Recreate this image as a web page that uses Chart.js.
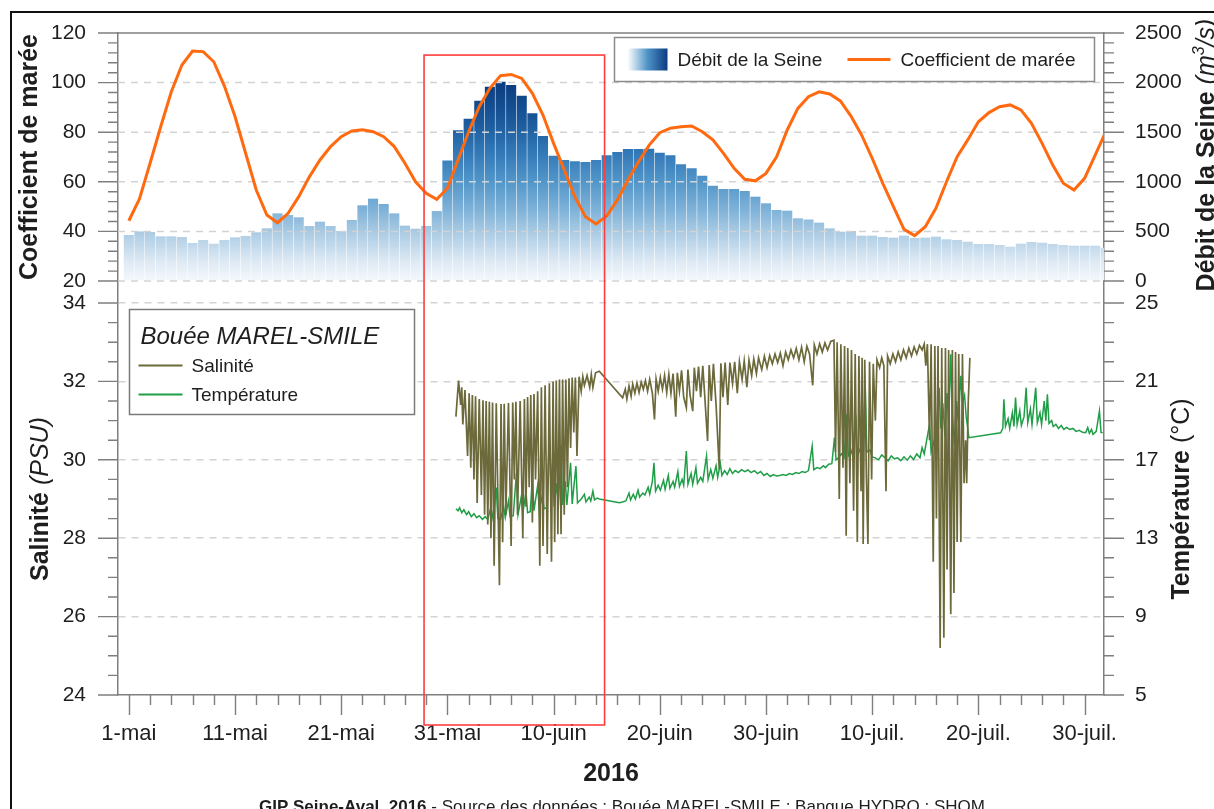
<!DOCTYPE html>
<html lang="fr">
<head>
<meta charset="utf-8">
<title>Bouée MAREL-SMILE - mai à juillet 2016</title>
<script src="https://cdn.jsdelivr.net/npm/chart.js@4.4.1/dist/chart.umd.min.js"></script>
<style>
  html, body { margin: 0; padding: 0; background: #fff; overflow: hidden; }
  #wrap { position: relative; width: 1214px; height: 809px; overflow: hidden; }
  #frame { position: absolute; left: 10px; top: 11px; width: 1300px; height: 900px; border: 2px solid #111; }
  #chart { position: absolute; left: 0; top: 0; }
</style>
</head>
<body>
<div id="wrap">
  <div id="frame"></div>
  <canvas id="chart" width="1214" height="809"></canvas>
</div>
<script>
// Day 0 = 1 May 2016, one value per day up to 1 August
const debitSeine = [
  464, 500, 494, 450, 450, 443, 383, 413, 376, 413,
  440, 454, 491, 531, 682, 665, 642, 554, 598, 554,
  504, 615, 763, 830, 776, 682, 558, 527, 555, 705,
  1215, 1519, 1636, 1818, 1959, 2009, 1976, 1868, 1690, 1462,
  1263, 1220, 1207, 1200, 1220, 1267, 1300, 1331, 1331, 1334,
  1294, 1267, 1176, 1136, 1062, 961, 927, 927, 907, 850,
  783, 716, 709, 632, 620, 588, 531, 497, 504, 457,
  457, 443, 437, 457, 433, 437, 447, 420, 413, 396,
  373, 373, 363, 346, 376, 393, 386, 373, 363, 356,
  356, 356, 336
];

const coefMaree = [
  44.3, 53.1, 67.5, 82.2, 96.3, 107.1, 112.7, 112.5, 108.4, 98.6,
  86.3, 71.5, 56.7, 46.6, 43.5, 47.3, 54.0, 62.0, 68.8, 74.2,
  78.2, 80.5, 81.0, 80.2, 78.2, 74.2, 67.5, 60.0, 55.4, 52.9,
  57.4, 68.8, 80.2, 90.3, 97.7, 102.8, 103.3, 101.7, 95.7, 86.9,
  75.5, 64.8, 54.0, 45.9, 43.0, 46.2, 52.7, 60.7, 68.1, 74.8,
  79.8, 81.6, 82.2, 82.5, 80.2, 76.9, 71.5, 65.4, 61.0, 60.4,
  63.4, 70.1, 80.9, 89.6, 94.3, 96.3, 95.4, 92.6, 86.5, 78.9,
  69.5, 59.4, 50.0, 40.8, 38.3, 41.9, 49.3, 60.0, 70.1, 76.9,
  84.2, 87.9, 90.3, 91.0, 89.0, 83.6, 75.5, 66.8, 59.4, 56.7,
  61.4, 70.8, 80.2
];

// MAREL-SMILE buoy: [day, PSU]
const salinite = [
  [30.80, 31.10], [31.05, 32.02], [31.25, 31.40], [31.35, 31.85], [31.45, 30.90], [31.65, 31.78],
  [31.90, 30.10], [32.05, 31.70], [32.20, 29.80], [32.35, 31.65], [32.50, 29.50], [32.65, 31.62],
  [32.80, 28.90], [33.00, 31.55], [33.20, 29.10], [33.35, 31.52], [33.50, 28.60], [33.65, 31.50],
  [33.80, 28.35], [33.95, 31.48], [34.10, 28.00], [34.25, 31.46], [34.40, 27.30], [34.60, 31.44],
  [34.90, 26.80], [35.05, 31.42], [35.20, 27.90], [35.35, 31.43], [35.50, 28.60], [35.75, 31.45],
  [36.00, 27.80], [36.15, 31.46], [36.30, 29.50], [36.45, 31.48], [36.60, 28.60], [36.85, 31.50],
  [37.10, 28.00], [37.25, 31.55], [37.40, 28.80], [37.55, 31.60], [37.70, 29.30], [37.85, 31.65],
  [38.00, 28.40], [38.15, 31.68], [38.30, 29.50], [38.50, 31.75], [38.70, 27.30], [38.85, 31.85],
  [39.00, 27.80], [39.20, 31.90], [39.40, 27.60], [39.60, 31.95], [39.80, 27.40], [39.95, 32.00],
  [40.10, 27.90], [40.25, 32.02], [40.40, 28.10], [40.55, 32.05], [40.70, 28.10], [40.85, 32.05],
  [41.00, 28.60], [41.15, 32.05], [41.30, 29.30], [41.45, 32.08], [41.60, 30.30], [41.75, 32.10],
  [41.90, 30.70], [42.05, 32.10], [42.20, 30.10], [42.40, 32.12], [42.60, 31.75], [42.75, 32.12],
  [42.90, 31.90], [43.15, 32.15], [43.40, 31.85], [43.55, 32.18], [43.70, 31.85], [43.95, 32.22],
  [44.30, 32.26],
  [46.50, 31.58], [46.75, 31.80], [46.90, 31.55], [47.10, 31.88], [47.30, 31.62], [47.45, 31.93],
  [47.65, 31.70], [47.85, 31.96], [48.05, 31.72], [48.25, 31.98], [48.45, 31.80], [48.65, 32.02],
  [48.85, 31.75], [49.05, 32.05], [49.30, 31.70], [49.50, 31.03], [49.65, 32.06], [49.85, 31.75],
  [50.05, 32.10], [50.25, 31.80], [50.45, 32.15], [50.65, 31.72], [50.85, 32.18], [51.05, 31.70],
  [51.25, 32.20], [51.50, 31.10], [51.65, 32.22], [51.85, 31.75], [52.05, 32.28], [52.25, 31.60],
  [52.50, 31.33], [52.65, 32.30], [52.85, 31.65], [53.10, 31.24], [53.25, 32.35], [53.45, 31.75],
  [53.65, 32.38], [53.85, 31.60], [54.05, 32.40], [54.25, 31.55], [54.50, 30.48], [54.65, 32.42],
  [54.85, 31.50], [55.05, 32.45], [55.30, 31.40], [55.60, 29.76], [55.75, 32.46], [55.95, 31.60],
  [56.15, 32.48], [56.40, 31.40], [56.60, 32.48], [56.85, 31.95], [57.05, 32.50], [57.30, 31.70],
  [57.50, 32.50], [57.75, 32.05], [57.95, 32.52], [58.20, 31.85], [58.40, 32.54], [58.65, 32.15],
  [58.85, 32.57], [59.10, 32.20], [59.30, 32.60], [59.60, 32.30], [59.85, 32.64], [60.10, 32.35],
  [60.35, 32.66], [60.60, 32.45], [60.85, 32.70], [61.10, 32.48], [61.35, 32.72], [61.60, 32.40],
  [61.85, 32.75], [62.10, 32.55], [62.35, 32.80], [62.60, 32.60], [62.85, 32.84], [63.10, 32.55],
  [63.35, 32.87], [63.60, 32.50], [63.85, 32.90], [64.10, 32.70], [64.40, 31.90], [64.55, 32.93],
  [64.80, 32.70], [65.05, 32.96], [65.30, 32.75], [65.55, 32.98], [65.80, 32.80], [66.10, 33.02],
  [66.40, 33.05],
  [66.55, 30.20], [66.70, 33.00], [66.90, 29.00], [67.05, 32.95], [67.25, 29.80], [67.40, 32.90],
  [67.55, 28.06], [67.70, 32.85], [67.90, 29.40], [68.05, 32.80], [68.25, 28.70], [68.40, 32.70],
  [68.60, 27.90], [68.75, 32.65], [68.95, 29.20], [69.05, 32.60], [69.15, 27.85], [69.30, 32.55],
  [69.45, 29.60], [69.60, 27.85], [69.75, 32.50], [69.95, 29.50], [70.10, 32.45], [70.30, 31.00],
  [70.45, 32.55],
  [70.70, 32.35], [70.90, 32.60], [71.10, 32.40], [71.30, 29.20], [71.45, 32.65], [71.70, 32.45],
  [71.95, 32.70], [72.20, 32.50], [72.45, 32.75], [72.70, 32.55], [72.95, 32.80], [73.20, 32.60],
  [73.45, 32.85], [73.70, 32.65], [73.95, 32.88], [74.20, 32.70], [74.45, 32.92], [74.70, 32.80],
  [74.90, 32.95],
  [75.05, 32.40], [75.20, 32.95], [75.40, 30.50], [75.55, 32.95], [75.75, 27.40], [75.90, 32.90],
  [76.05, 28.50], [76.20, 32.90], [76.40, 25.20], [76.55, 32.85], [76.75, 25.46], [76.90, 32.85],
  [77.05, 27.20], [77.20, 32.80], [77.40, 26.06], [77.55, 32.80], [77.70, 26.60], [77.85, 32.75],
  [78.00, 27.90], [78.15, 32.70], [78.35, 27.90], [78.50, 32.70], [78.65, 29.40], [78.80, 30.50],
  [78.90, 29.40], [79.05, 31.50], [79.20, 32.60]
];

// MAREL-SMILE buoy: [day, degrees C]
const temperature = [
  [30.80, 14.50], [31.00, 14.40], [31.15, 14.55], [31.35, 14.30], [31.55, 14.45], [31.80, 14.20],
  [32.00, 14.35], [32.25, 14.10], [32.50, 14.25], [32.75, 14.05], [33.00, 14.15], [33.30, 13.96],
  [33.55, 14.10], [33.80, 13.95], [34.10, 14.60], [34.30, 13.98], [34.60, 15.58], [34.75, 14.00],
  [35.00, 13.96], [35.30, 14.60], [35.45, 14.05], [35.75, 14.90], [35.90, 14.10], [36.20, 14.15],
  [36.50, 16.34], [36.65, 14.20], [36.95, 15.10], [37.10, 14.25], [37.40, 15.40], [37.55, 14.30],
  [37.80, 14.35], [38.00, 16.10], [38.15, 14.40], [38.50, 15.70], [38.65, 14.45], [38.95, 15.20],
  [39.10, 14.50], [39.35, 14.55], [39.60, 18.13], [39.75, 15.60], [39.90, 16.90], [40.05, 14.60],
  [40.30, 15.80], [40.45, 14.65], [40.70, 17.70], [40.85, 14.70], [41.10, 15.90], [41.25, 14.70],
  [41.60, 16.85], [41.75, 14.75], [42.10, 16.68], [42.25, 14.80], [42.60, 15.00], [42.90, 15.24],
  [43.05, 14.85], [43.35, 15.10], [43.50, 14.90], [43.70, 15.40], [43.85, 14.95], [44.10, 15.05],
  [44.30, 15.00],
  [46.20, 14.81], [46.50, 14.85], [46.80, 14.90], [47.10, 15.30], [47.25, 14.95], [47.50, 15.24],
  [47.70, 15.00], [47.95, 15.45], [48.10, 15.10], [48.40, 15.30], [48.60, 15.20], [48.90, 15.60],
  [49.05, 15.25], [49.30, 15.90], [49.45, 16.85], [49.60, 15.40], [49.85, 15.70], [50.05, 15.45],
  [50.35, 15.95], [50.50, 15.50], [50.80, 16.20], [50.95, 15.55], [51.25, 15.90], [51.40, 15.60],
  [51.70, 16.40], [51.85, 15.65], [52.10, 16.00], [52.25, 15.70], [52.50, 17.45], [52.65, 15.75],
  [52.95, 16.30], [53.10, 15.75], [53.40, 16.60], [53.55, 15.80], [53.85, 16.10], [54.05, 15.90],
  [54.40, 17.19], [54.55, 16.00], [54.80, 16.50], [55.00, 16.05], [55.30, 16.70], [55.45, 16.10],
  [55.70, 16.80], [55.85, 16.20], [56.10, 16.45], [56.35, 16.25], [56.60, 16.55], [56.85, 16.30],
  [57.10, 16.45], [57.40, 16.35], [57.70, 16.50], [58.00, 16.40], [58.30, 16.48], [58.60, 16.35],
  [58.90, 16.45], [59.20, 16.30], [59.50, 16.40], [59.80, 16.20], [60.10, 16.30], [60.40, 16.15],
  [60.70, 16.25], [61.00, 16.17],
  [61.30, 16.20], [61.60, 16.25], [61.90, 16.20], [62.20, 16.30], [62.50, 16.25], [62.80, 16.35],
  [63.10, 16.30], [63.40, 16.40], [63.70, 16.35], [64.00, 16.45], [64.35, 17.70], [64.50, 16.50],
  [64.80, 16.60], [65.10, 16.55], [65.40, 16.70], [65.60, 16.60], [65.90, 16.77], [66.20, 16.80],
  [66.45, 18.13], [66.60, 17.00], [66.85, 17.11], [67.10, 17.30], [67.35, 17.10], [67.60, 19.32],
  [67.75, 17.20], [68.00, 17.50], [68.20, 17.15], [68.45, 19.30], [68.60, 17.20], [68.90, 17.60],
  [69.05, 17.20], [69.35, 20.68], [69.50, 17.40], [69.80, 17.50], [70.00, 17.15], [70.30, 17.10],
  [70.60, 17.00], [70.90, 17.25], [71.20, 17.11], [71.50, 16.95], [71.80, 17.20], [72.10, 17.05],
  [72.40, 17.10], [72.70, 16.95], [73.00, 17.15], [73.30, 16.98], [73.60, 17.20], [73.90, 17.02],
  [74.20, 17.30], [74.50, 17.10], [74.70, 17.62], [74.90, 17.30], [75.40, 18.81], [75.55, 17.40],
  [75.80, 17.90], [75.95, 17.50], [76.30, 20.68], [76.45, 18.60], [76.65, 19.90], [76.85, 18.20],
  [77.05, 20.40], [77.20, 18.90], [77.40, 22.38], [77.55, 19.20], [77.75, 17.80], [77.95, 20.00],
  [78.10, 19.00], [78.35, 21.28], [78.50, 19.90], [78.70, 20.30], [78.85, 19.20], [79.00, 18.60],
  [79.10, 18.13],
  [82.10, 18.38], [82.30, 18.60], [82.40, 20.09], [82.55, 18.70], [82.80, 19.10], [82.95, 18.60],
  [83.20, 19.40], [83.35, 18.70], [83.50, 20.17], [83.65, 18.80], [83.90, 19.50], [84.05, 18.75],
  [84.30, 19.20], [84.50, 20.68], [84.65, 18.90], [84.90, 19.60], [85.05, 18.80], [85.40, 20.68],
  [85.55, 18.90], [85.80, 19.40], [85.95, 18.80], [86.20, 20.00], [86.35, 19.00], [86.50, 20.34],
  [86.65, 18.85], [86.90, 19.00], [87.05, 18.70], [87.30, 18.81], [87.55, 18.60], [87.80, 18.75],
  [88.05, 18.55], [88.30, 18.65], [88.60, 18.55], [88.90, 18.60], [89.20, 18.45], [89.50, 18.50],
  [89.80, 18.40], [90.10, 18.38], [90.30, 18.64], [90.45, 18.35], [90.65, 18.55], [90.80, 18.30],
  [91.10, 18.45], [91.40, 19.49], [91.55, 18.40], [91.70, 18.38]
];

// labels every 10 days from day 0
const dateLabels = ['1-mai', '11-mai', '21-mai', '31-mai', '10-juin', '20-juin', '30-juin', '10-juil.', '20-juil.', '30-juil.'];

// highlighted period (days)
const periodeCrue = [27.8, 44.8];

const FONT = "'Liberation Sans', Arial, Helvetica, sans-serif";
const TEXT = '#1e1e1e';
const AXIS_GREY = '#7f7f7f';
const GRID_GREY = '#d3d3d3';
const ORANGE = '#ff6a10';
const OLIVE = '#6c693a';
const GREEN = '#1f9e47';
const NAVY = '#0b3c80';

Chart.defaults.font.family = FONT;
Chart.defaults.color = TEXT;

const isMajor = {
  x: v => v % 10 === 0,
  coef: v => v % 20 === 0,
  debit: v => v % 500 === 0,
  sal: v => Number.isInteger(v) && v % 2 === 0,
  temp: v => (v - 5) % 4 === 0
};

function tickValues(from, to, step) {
  const out = [];
  for (let v = from; v <= to + 1e-9; v += step) out.push(Math.round(v * 100) / 100);
  return out;
}

let barGradient = null;
let gradientKey = '';

function debitFill(context) {
  const chart = context.chart;
  const { chartArea, scales } = chart;
  if (!chartArea || !scales.debit) return '#6aa5d2';
  const y0 = scales.debit.getPixelForValue(0);
  const y1 = scales.debit.getPixelForValue(2000);
  const key = y0 + ':' + y1;
  if (!barGradient || key !== gradientKey) {
    const g = chart.ctx.createLinearGradient(0, y0, 0, y1);
    g.addColorStop(0, '#f4f8fc');
    g.addColorStop(0.1, '#dde9f4');
    g.addColorStop(0.25, '#a9cae3');
    g.addColorStop(0.35, '#82b4d9');
    g.addColorStop(0.5, '#5296c9');
    g.addColorStop(0.65, '#3278b7');
    g.addColorStop(0.8, '#1b5a9b');
    g.addColorStop(1, NAVY);
    barGradient = g;
    gradientKey = key;
  }
  return barGradient;
}

function yAxis(id, position, stack, weight, min, max, ticks) {
  const major = isMajor[id];
  return {
    type: 'linear',
    axis: 'y',
    position,
    stack,
    stackWeight: weight,
    min,
    max,
    afterBuildTicks: scale => {
      scale.ticks = tickValues(ticks[0], ticks[1], ticks[2]).map(value => ({ value }));
    },
    afterFit: scale => {
      scale.width = position === 'left' ? 118 : 110;
      // keep label overhang from pushing the plot area down
      scale.paddingTop = 0;
      scale.paddingBottom = 0;
    },
    ticks: {
      autoSkip: false,
      padding: position === 'left' ? 32 : 31,
      font: { size: 21 },
      color: TEXT,
      callback: v => (major(v) ? String(v) : '')
    },
    grid: {
      drawTicks: false,
      drawOnChartArea: id === 'sal',
      lineWidth: 1.5,
      color: ctx => (ctx.tick && major(ctx.tick.value) && ctx.tick.value !== 24 ? GRID_GREY : 'rgba(0,0,0,0)')
    },
    border: { display: true, color: AXIS_GREY, width: 1.5, dash: [7, 6] }
  };
}

function drawTickMarks(ctx, scale, side, area) {
  const major = isMajor[scale.id];
  ctx.beginPath();
  for (const t of scale.ticks) {
    const len = major(t.value) ? 20 : 10;
    if (side === 'bottom') {
      const x = Math.round(scale.getPixelForValue(t.value)) + 0.5;
      if (x < area.left - 1 || x > area.right + 1) continue;
      ctx.moveTo(x, area.bottom);
      ctx.lineTo(x, area.bottom + len);
    } else {
      const y = scale.getPixelForValue(t.value);
      const x0 = side === 'left' ? area.left : area.right;
      ctx.moveTo(x0, y);
      ctx.lineTo(side === 'left' ? x0 - len : x0 + len, y);
    }
  }
  ctx.stroke();
}

// rotated title, reading bottom to top, made of several styled pieces
function drawVerticalTitle(ctx, parts, baselineX, centerY) {
  ctx.save();
  ctx.translate(baselineX, centerY);
  ctx.rotate(-Math.PI / 2);
  ctx.textAlign = 'left';
  ctx.textBaseline = 'alphabetic';
  ctx.fillStyle = TEXT;
  let total = 0;
  for (const p of parts) {
    ctx.font = p.font;
    total += ctx.measureText(p.text).width;
  }
  let x = -total / 2;
  for (const p of parts) {
    ctx.font = p.font;
    ctx.fillText(p.text, x, -(p.rise || 0));
    x += ctx.measureText(p.text).width;
  }
  ctx.restore();
}

function drawTopLegend(ctx, area, datasets) {
  const debit = datasets.find(d => d.yAxisID === 'debit');
  const coef = datasets.find(d => d.yAxisID === 'coef');
  const left = area.right - 489.5;
  const top = area.top + 4.5;
  const midY = top + 22;

  ctx.fillStyle = '#fff';
  ctx.fillRect(left, top, 480, 44);
  ctx.strokeStyle = '#8a8a8a';
  ctx.lineWidth = 1.5;
  ctx.strokeRect(left, top, 480, 44);

  const sw = ctx.createLinearGradient(left + 13, 0, left + 53, 0);
  sw.addColorStop(0, '#ffffff');
  sw.addColorStop(0.5, '#4f93c7');
  sw.addColorStop(1, NAVY);
  ctx.fillStyle = sw;
  ctx.fillRect(left + 13, top + 11, 40, 22);

  ctx.font = '19px ' + FONT;
  ctx.fillStyle = TEXT;
  ctx.textAlign = 'left';
  ctx.textBaseline = 'middle';
  ctx.fillText(debit.label, left + 63, midY + 1);

  ctx.strokeStyle = coef.borderColor;
  ctx.lineWidth = 3;
  ctx.beginPath();
  ctx.moveTo(left + 233, midY);
  ctx.lineTo(left + 276, midY);
  ctx.stroke();
  ctx.fillText(coef.label, left + 286, midY + 1);
}

function drawBuoyLegend(ctx, area, scales, datasets) {
  const sal = datasets.find(d => d.yAxisID === 'sal');
  const temp = datasets.find(d => d.yAxisID === 'temp');
  const left = area.left + 11.5;
  const top = scales.sal.getPixelForValue(34) + 6.5;

  ctx.fillStyle = '#fff';
  ctx.fillRect(left, top, 285, 105);
  ctx.strokeStyle = '#7a7a7a';
  ctx.lineWidth = 1.5;
  ctx.strokeRect(left, top, 285, 105);

  ctx.fillStyle = TEXT;
  ctx.textAlign = 'left';
  ctx.textBaseline = 'alphabetic';
  ctx.font = 'italic 24px ' + FONT;
  ctx.fillText('Bouée MAREL-SMILE', left + 11, top + 35);

  ctx.font = '19px ' + FONT;
  ctx.textBaseline = 'middle';
  [[sal, top + 56], [temp, top + 85]].forEach(([ds, y]) => {
    ctx.strokeStyle = ds.borderColor;
    ctx.lineWidth = 1.8;
    ctx.beginPath();
    ctx.moveTo(left + 9, y);
    ctx.lineTo(left + 53, y);
    ctx.stroke();
    ctx.fillText(ds.label, left + 62, y + 1);
  });
}

const decorPlugin = {
  id: 'decor',
  // dashed guides of the upper panel sit above the discharge bars
  afterDatasetDraw(chart, args) {
    if (args.meta.type !== 'bar') return;
    const { ctx, chartArea: a, scales } = chart;
    ctx.save();
    ctx.strokeStyle = GRID_GREY;
    ctx.lineWidth = 1.5;
    ctx.setLineDash([7, 6]);
    ctx.beginPath();
    for (const t of scales.coef.ticks) {
      if (!isMajor.coef(t.value) || t.value === 120) continue;
      const y = scales.coef.getPixelForValue(t.value);
      ctx.moveTo(a.left, y);
      ctx.lineTo(a.right, y);
    }
    ctx.stroke();
    ctx.restore();
  },
  afterDraw(chart) {
    const { ctx, chartArea: a, scales } = chart;
    const datasets = chart.data.datasets;
    ctx.save();

    ctx.strokeStyle = AXIS_GREY;
    ctx.lineWidth = 1.5;
    ctx.beginPath();
    ctx.moveTo(a.left, a.top);
    ctx.lineTo(a.right, a.top);
    ctx.stroke();

    ctx.lineWidth = 1.4;
    drawTickMarks(ctx, scales.coef, 'left', a);
    drawTickMarks(ctx, scales.sal, 'left', a);
    drawTickMarks(ctx, scales.debit, 'right', a);
    drawTickMarks(ctx, scales.temp, 'right', a);
    drawTickMarks(ctx, scales.x, 'bottom', a);

    const bold = 'bold 25px ' + FONT;
    const italic = 'italic 25px ' + FONT;
    const topMid = (scales.coef.getPixelForValue(120) + scales.coef.getPixelForValue(20)) / 2;
    const lowMid = (scales.sal.getPixelForValue(34) + scales.sal.getPixelForValue(24)) / 2;
    drawVerticalTitle(ctx, [{ text: 'Coefficient de marée', font: bold }], 37, topMid);
    drawVerticalTitle(ctx, [{ text: 'Salinité ', font: bold }, { text: '(PSU)', font: italic }], 48, lowMid);
    drawVerticalTitle(ctx, [
      { text: 'Débit de la Seine ', font: bold },
      { text: '(m', font: italic },
      { text: '3', font: 'italic 16px ' + FONT, rise: 10 },
      { text: '/s)', font: italic }
    ], 1214, topMid - 2);
    drawVerticalTitle(ctx, [{ text: 'Température ', font: bold }, { text: '(°C)', font: '25px ' + FONT }], 1189, lowMid);

    ctx.fillStyle = TEXT;
    ctx.textAlign = 'center';
    ctx.textBaseline = 'alphabetic';
    ctx.font = bold;
    ctx.fillText('2016', (a.left + a.right) / 2, a.bottom + 86);

    // source line, bold lead then regular text
    const lead = 'GIP Seine-Aval, 2016';
    const rest = ' - Source des données : Bouée MAREL-SMILE ; Banque HYDRO ; SHOM';
    ctx.textAlign = 'left';
    ctx.font = 'bold 17px ' + FONT;
    const w1 = ctx.measureText(lead).width;
    ctx.font = '17px ' + FONT;
    const w2 = ctx.measureText(rest).width;
    const x0 = 622 - (w1 + w2) / 2;
    ctx.font = 'bold 17px ' + FONT;
    ctx.fillText(lead, x0, a.bottom + 117);
    ctx.font = '17px ' + FONT;
    ctx.fillText(rest, x0 + w1, a.bottom + 117);

    drawTopLegend(ctx, a, datasets);
    drawBuoyLegend(ctx, a, scales, datasets);

    // highlighted flood period
    const x1 = scales.x.getPixelForValue(periodeCrue[0]);
    const x2 = scales.x.getPixelForValue(periodeCrue[1]);
    const yTop = scales.coef.getPixelForValue(111.1);
    ctx.strokeStyle = '#ff3d3d';
    ctx.lineWidth = 1.6;
    ctx.strokeRect(x1, yTop, x2 - x1, a.bottom + 30 - yTop);

    ctx.restore();
  }
};

new Chart(document.getElementById('chart'), {
  type: 'line',
  data: {
    datasets: [
      {
        label: 'Coefficient de marée',
        data: coefMaree.map((v, i) => ({ x: i, y: v })),
        yAxisID: 'coef',
        borderColor: ORANGE,
        borderWidth: 3,
        pointRadius: 0,
        tension: 0,
        order: 0
      },
      {
        label: 'Salinité',
        data: salinite.map(([x, y]) => ({ x, y })),
        yAxisID: 'sal',
        borderColor: OLIVE,
        borderWidth: 1.7,
        pointRadius: 0,
        tension: 0,
        order: 1
      },
      {
        label: 'Température',
        data: temperature.map(([x, y]) => ({ x, y })),
        yAxisID: 'temp',
        borderColor: GREEN,
        borderWidth: 1.5,
        pointRadius: 0,
        tension: 0,
        order: 2
      },
      {
        type: 'bar',
        label: 'Débit de la Seine',
        data: debitSeine.map((v, i) => ({ x: i, y: v })),
        yAxisID: 'debit',
        backgroundColor: debitFill,
        borderWidth: 0,
        barPercentage: 0.95,
        categoryPercentage: 1,
        order: 3
      }
    ]
  },
  options: {
    responsive: false,
    animation: false,
    events: [],
    layout: { padding: { top: 33, left: 0, right: 0, bottom: 0 } },
    plugins: {
      legend: { display: false },
      tooltip: { enabled: false }
    },
    scales: {
      x: {
        type: 'linear',
        position: 'bottom',
        min: -1.02,
        max: 91.83,
        offset: false,
        afterBuildTicks: scale => {
          scale.ticks = tickValues(0, 90, 2).map(value => ({ value }));
        },
        afterFit: scale => {
          scale.height = 114;
          scale.paddingLeft = 0;
          scale.paddingRight = 0;
        },
        ticks: {
          autoSkip: false,
          maxRotation: 0,
          minRotation: 0,
          padding: 26,
          font: { size: 22 },
          color: TEXT,
          callback: v => (isMajor.x(v) ? dateLabels[v / 10] : '')
        },
        grid: { drawTicks: false, drawOnChartArea: false },
        border: { display: true, color: AXIS_GREY, width: 1.5 }
      },
      sal: yAxis('sal', 'left', 'gauche', 414, 24, 34.561, [24, 34, 0.5]),
      debit: yAxis('debit', 'right', 'droite', 248, 0, 2500, [0, 2500, 100]),
      temp: yAxis('temp', 'right', 'droite', 414, 5, 26.122, [5, 25, 1]),
      coef: yAxis('coef', 'left', 'gauche', 248, 20, 120, [20, 120, 4])
    }
  },
  plugins: [decorPlugin]
});
</script>
</body>
</html>
